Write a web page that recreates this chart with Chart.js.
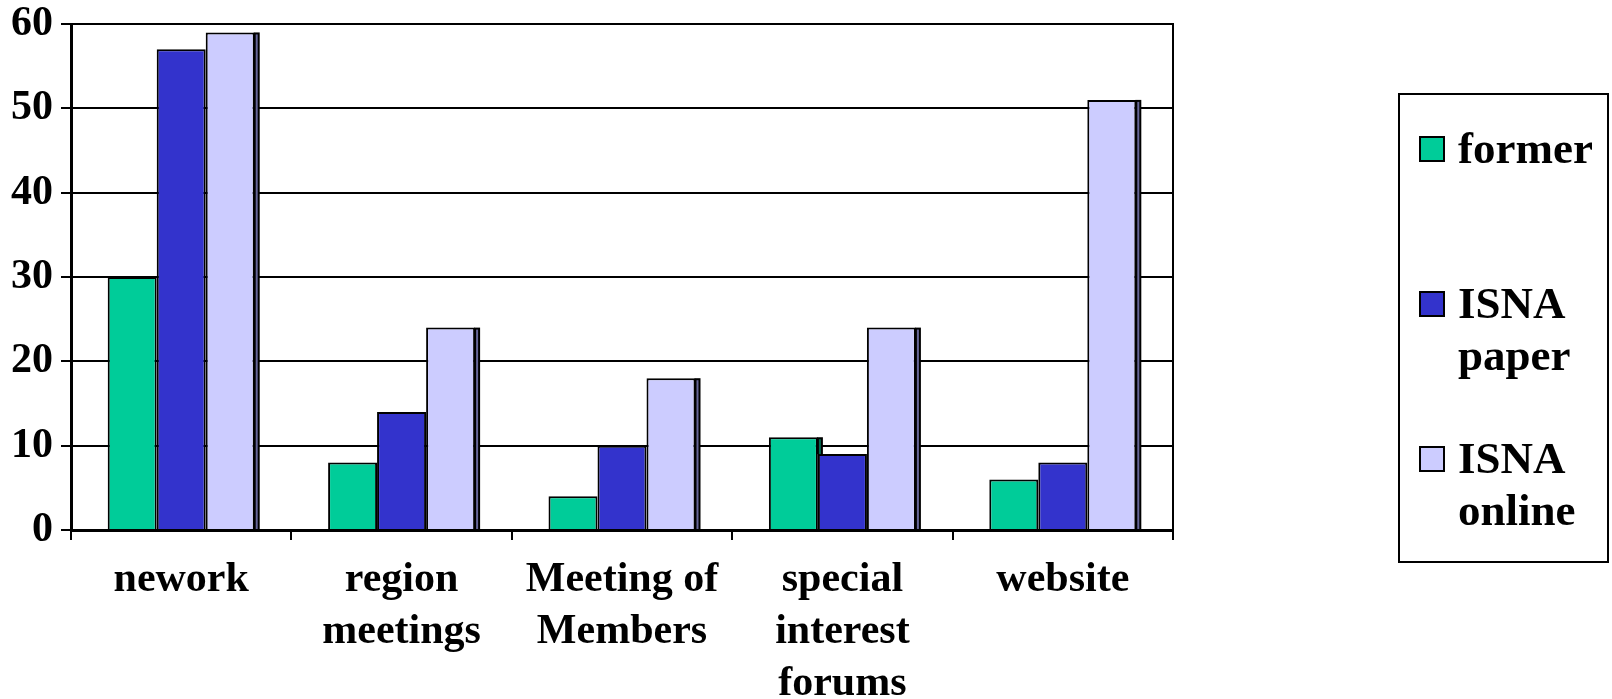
<!DOCTYPE html>
<html>
<head>
<meta charset="utf-8">
<script src="https://cdn.jsdelivr.net/npm/chart.js@4/dist/chart.umd.min.js"></script>
<style>
  html, body { margin: 0; padding: 0; background: #fff; }
  #wrap { position: relative; width: 1612px; height: 699px; }
  #legend { position: absolute; left: 1398px; top: 93px; width: 211px; height: 470px;
    border: 2px solid #000; box-sizing: border-box; font-family: "Liberation Serif", "Times New Roman", serif;
    font-weight: bold; font-size: 45px; line-height: 52px; color: #000; }
  .item { position: absolute; left: 19px; }
  .sw { position: absolute; left: 0; width: 26px; height: 26px; border: 2px solid #000; box-sizing: border-box; }
  .tx { position: absolute; left: 39px; white-space: nowrap; }
</style>
</head>
<body>
<div id="wrap">
  <canvas id="c" width="1612" height="699"></canvas>
  <div id="legend"></div>
</div>
<script>
const categories = [["nework"], ["region", "meetings"], ["Meeting of", "Members"], ["special", "interest", "forums"], ["website"]];
const seriesNames = ["former", "ISNA paper", "ISNA online"];
const formerValues = [30, 8, 4, 11, 6];
const paperValues = [57, 14, 10, 9, 8];
const onlineValues = [59, 24, 18, 24, 51];
const yTicks = [0, 10, 20, 30, 40, 50, 60];

const fillColors = ["#00CC99", "#3333CC", "#CCCCFF"];
const sideColors = ["#006B50", "#1A1A66", "#666699"];
const legendLines = [["former"], ["ISNA", "paper"], ["ISNA", "online"]];
const legendTops = [27, 182, 337];

const FONT = { family: "'Liberation Serif', 'Times New Roman', serif", size: 42, weight: "bold", lineHeight: 1.24 };

const sideStrip = {
  id: "sideStrip",
  afterDatasetsDraw(chart) {
    const ctx = chart.ctx;
    const n = chart.data.datasets.length;
    ctx.save();
    for (let i = 0; i < n; i++) {
      const meta = chart.getDatasetMeta(i);
      const next = i < n - 1 ? chart.getDatasetMeta(i + 1) : null;
      const color = chart.data.datasets[i].sideColor;
      meta.data.forEach((bar, j) => {
        const p = bar.getProps(["x", "y", "base", "width"], true);
        let bottom = p.base;
        if (next) {
          const q = next.data[j].getProps(["y"], true);
          bottom = Math.min(bottom, q.y);
        }
        if (bottom <= p.y + 1) return;
        const r = p.x + p.width / 2;
        ctx.fillStyle = "#000";
        ctx.fillRect(r - 1, p.y, 6, bottom - p.y);
        ctx.fillStyle = color;
        ctx.fillRect(r + 1, p.y + 2, 2, bottom - p.y - 2);
      });
    }
    ctx.restore();
  }
};

const datasets = [formerValues, paperValues, onlineValues].map((vals, i) => ({
  label: seriesNames[i],
  data: vals,
  backgroundColor: fillColors[i],
  borderColor: "#000",
  borderWidth: 2,
  sideColor: sideColors[i],
  categoryPercentage: 0.667,
  barPercentage: 1.0
}));

new Chart(document.getElementById("c"), {
  type: "bar",
  data: { labels: categories, datasets },
  plugins: [sideStrip],
  options: {
    responsive: false,
    animation: false,
    layout: { padding: { top: 24, right: 439, left: 0, bottom: 0 } },
    plugins: { legend: { display: false }, tooltip: { enabled: false } },
    scales: {
      x: {
        grid: { display: true, drawOnChartArea: false, drawTicks: true, tickLength: 10, color: "#000", lineWidth: 2, offset: true },
        border: { display: true, color: "#000", width: 3 },
        ticks: { color: "#000", font: FONT, padding: 14, maxRotation: 0, autoSkip: false },
        afterFit(s) { s.height = 169; s.paddingLeft = 0; s.paddingRight = 0; }
      },
      y: {
        min: 0, max: 60,
        afterBuildTicks(s) { s.ticks = yTicks.map(v => ({ value: v })); },
        grid: { color: "#000", lineWidth: 2, drawTicks: true, tickLength: 10 },
        border: { display: true, color: "#000", width: 3 },
        ticks: { color: "#000", font: FONT, padding: 8 },
        afterFit(s) { s.width = 71; s.paddingTop = 0; s.paddingBottom = 0; }
      },
      y2: {
        position: "right", min: 0, max: 60,
        grid: { display: false },
        border: { display: true, color: "#000", width: 2 },
        ticks: { display: false },
        afterFit(s) { s.width = 0; s.paddingTop = 0; s.paddingBottom = 0; }
      }
    }
  }
});

const lg = document.getElementById("legend");
seriesNames.forEach((name, i) => {
  const it = document.createElement("div");
  it.className = "item";
  it.style.top = legendTops[i] + "px";
  const sw = document.createElement("div");
  sw.className = "sw";
  sw.style.background = fillColors[i];
  sw.style.top = "14px";
  const tx = document.createElement("div");
  tx.className = "tx";
  tx.innerHTML = legendLines[i].join("<br>");
  it.appendChild(sw); it.appendChild(tx);
  lg.appendChild(it);
});
</script>
</body>
</html>
